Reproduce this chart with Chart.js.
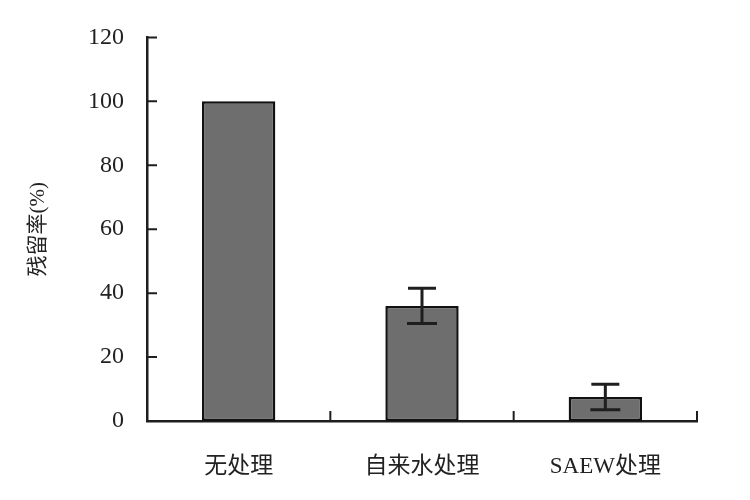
<!DOCTYPE html>
<html>
<head>
<meta charset="utf-8">
<script src="https://cdn.jsdelivr.net/npm/chart.js@4/dist/chart.umd.min.js"></script>
<style>
  html, body { margin: 0; padding: 0; background: #fff; }
  #chart { display: block; }
</style>
</head>
<body>
<canvas id="chart" width="750" height="500"></canvas>
<script>
const categories = ["无处理", "自来水处理", "SAEW处理"];
const residue = [100, 36, 7.5];
const residueErr = [0, 5.5, 4];
const yTicks = [0, 20, 40, 60, 80, 100, 120];

const FONT = "'Liberation Serif', 'Noto Sans CJK SC', serif";
const INK = "#1e1e1e";

// error bars drawn from the data through the y scale
const errorBars = {
  id: "errorBars",
  afterDatasetsDraw(chart) {
    const ctx = chart.ctx;
    const y = chart.scales.y;
    const meta = chart.getDatasetMeta(0);
    ctx.save();
    ctx.strokeStyle = INK;
    ctx.lineWidth = 3;
    meta.data.forEach((bar, i) => {
      const e = residueErr[i];
      if (!e) return;
      const top = y.getPixelForValue(residue[i] + e);
      const bot = y.getPixelForValue(residue[i] - e);
      ctx.beginPath();
      ctx.moveTo(bar.x, top);
      ctx.lineTo(bar.x, bot);
      ctx.moveTo(bar.x - 14, top);
      ctx.lineTo(bar.x + 14, top);
      ctx.moveTo(bar.x - 15, bot);
      ctx.lineTo(bar.x + 15, bot);
      ctx.stroke();
    });
    ctx.restore();
  },
};

// inward tick marks, as in the original figure
const innerTicks = {
  id: "innerTicks",
  afterDraw(chart) {
    const ctx = chart.ctx;
    const { x, y } = chart.scales;
    const area = chart.chartArea;
    ctx.save();
    ctx.strokeStyle = INK;
    ctx.lineWidth = 2;
    ctx.beginPath();
    yTicks.forEach((v) => {
      const py = y.getPixelForValue(v);
      ctx.moveTo(area.left, py);
      ctx.lineTo(area.left + 10, py);
    });
    const step = x.getPixelForValue(1) - x.getPixelForValue(0);
    categories.forEach((c, i) => {
      const px = x.getPixelForValue(i) + step / 2;
      ctx.moveTo(px, area.bottom);
      ctx.lineTo(px, area.bottom - 10);
    });
    ctx.stroke();
    ctx.restore();
  },
};

new Chart(document.getElementById("chart"), {
  type: "bar",
  data: {
    labels: categories,
    datasets: [
      {
        data: residue,
        backgroundColor: "#6e6e6e",
        borderColor: "#111",
        borderWidth: 2.5,
        borderSkipped: false,
        barPercentage: 0.4,
        categoryPercentage: 1.0,
      },
    ],
  },
  options: {
    responsive: false,
    animation: false,
    devicePixelRatio: 1,
    layout: { padding: { top: 32, right: 53, left: 0, bottom: 0 } },
    plugins: {
      legend: { display: false },
      tooltip: { enabled: false },
    },
    scales: {
      x: {
        offset: true,
        grid: { display: false, drawTicks: false },
        border: { display: true, color: INK, width: 2.5 },
        ticks: { color: "#222", font: { family: FONT, size: 23 }, padding: 32 },
        afterFit(scale) { scale.height = 79; },
      },
      y: {
        min: 0,
        max: 120,
        afterBuildTicks(scale) { scale.ticks = yTicks.map((v) => ({ value: v })); },
        grid: { display: false, drawTicks: false },
        border: { display: true, color: INK, width: 2.5 },
        ticks: { color: "#222", font: { family: FONT, size: 24 }, padding: 23 },
        title: {
          display: true,
          text: "残留率(%)",
          color: "#222",
          font: { family: FONT, size: 21 },
          padding: { top: 26, bottom: 0 },
        },
        afterFit(scale) { scale.width = 147; },
      },
    },
  },
  plugins: [errorBars, innerTicks],
});
</script>
</body>
</html>
